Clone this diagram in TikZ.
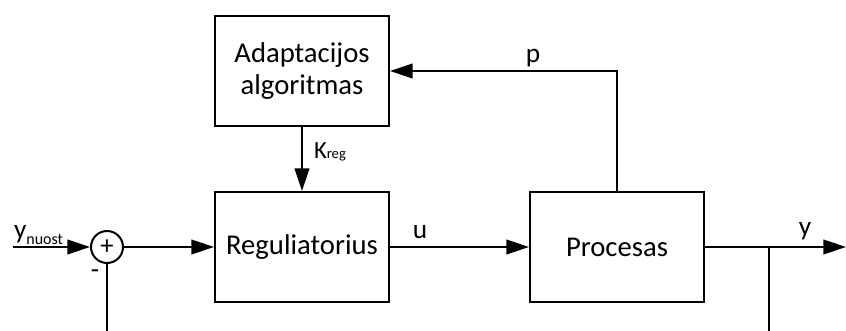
\documentclass[tikz,border=0pt]{standalone}
\usepackage{fontspec}
\setmainfont{Carlito}
\usetikzlibrary{arrows.meta}

\tikzset{
  blok/.style={draw, line width=1.5pt, minimum width=130.5pt, minimum height=82.5pt,
    inner sep=0pt, align=center, font=\fontsize{21.5}{24.5}\selectfont},
  suma/.style={draw, circle, line width=1.5pt, minimum size=24pt, inner sep=0pt,
    font=\fontsize{20}{20}\selectfont},
  zyme/.style={inner sep=0pt, font=\fontsize{20.5}{22}\selectfont}
}

\begin{document}
\begin{tikzpicture}[x=0.75pt,y=-0.75pt,line width=1.5pt,
    >={Triangle[length=17pt,width=11pt]}]
    \useasboundingbox (0,0) rectangle (846,331);
    \clip (0,0) rectangle (846,331);
    % blokai
    \node[blok] (adapt) at (302,71) {Adaptacijos\\algoritmas};
    \node[blok] (reg) at (302,247) {Reguliatorius};
    \node[blok] (proc) at (617,247) {Procesas};
    \node[suma] (sum) at (107,247) {+};
    \coordinate (in) at (13,247);
    \coordinate (out) at (846,247);
    \coordinate (mazgas) at (769,247);
    % rodykles
    \draw[->] (in) -- (sum);
    \draw[->] (sum) -- (reg);
    \draw[->] (reg) -- (proc);
    \draw[->] (proc) -- (out);
    \draw[->] (proc.north) |- (adapt.east);
    \draw[->] (adapt) -- (reg);
    \draw (mazgas) -- (mazgas |- 0,340);
    \draw (sum) -- (sum |- 0,340);
    % zymes
    \node[zyme, anchor=base west] (ynuost) at (13,239)
        {y{\fontsize{12}{14}\selectfont\raisebox{-4pt}{nuost}}};
    \node[zyme] (minus) at (95,274) {-};
    \node[zyme, anchor=base west] (kreg) at (313,159)
        {\fontsize{18.5}{20}\selectfont K{\fontsize{11}{12}\selectfont reg}};
    \node[zyme, anchor=base] (ulbl) at (420,239) {u};
    \node[zyme, anchor=base] (plbl) at (533,63) {p};
    \node[zyme, anchor=base] (ylbl) at (805,236) {y};
\end{tikzpicture}
\end{document}
